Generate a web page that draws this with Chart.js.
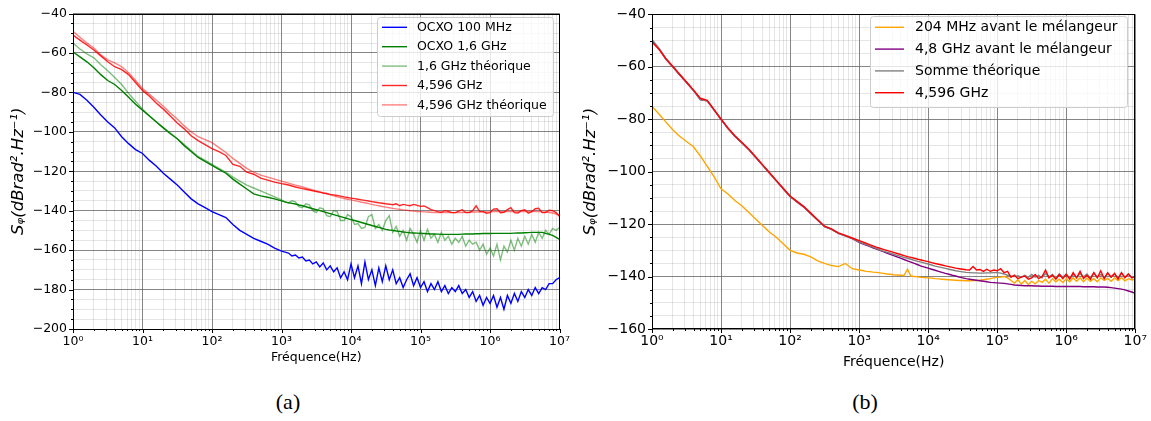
<!DOCTYPE html>
<html><head><meta charset="utf-8">
<script src="https://cdn.jsdelivr.net/npm/chart.js@4.4.1/dist/chart.umd.min.js"></script>
<style>
html,body{margin:0;padding:0;background:#fff;}
#wrap{position:relative;width:1151px;height:421px;overflow:hidden;background:#fff;}
#ca{position:absolute;left:0;top:0;}
#cb{position:absolute;left:580px;top:0;}
.cap{position:absolute;top:389px;font-family:'Liberation Serif','DejaVu Serif',serif;font-size:22px;line-height:26px;transform:translateX(-50%);color:#000;}
</style></head><body>
<div id="wrap">
<canvas id="ca" width="575" height="380"></canvas>
<canvas id="cb" width="571" height="380"></canvas>
<div class="cap" style="left:288px">(a)</div>
<div class="cap" style="left:865px">(b)</div>
</div>
<script>
// ---- data: frequency in Hz (10 pts/decade below 1 kHz, 20 pts/decade above) ----
const FREQ = [1,1.259,1.585,1.995,2.512,3.162,3.981,5.012,6.31,7.943,
10,12.59,15.85,19.95,25.12,31.62,39.81,50.12,63.1,79.43,
100,125.9,158.5,199.5,251.2,316.2,398.1,501.2,631,794.3,
1000,1122,1259,1413,1585,1778,1995,2239,2512,2818,3162,3548,3981,4467,5012,5623,6310,7079,7943,8913,
10000,11220,12590,14130,15850,17780,19950,22390,25120,28180,31620,35480,39810,44670,50120,56230,63100,70790,79430,89130,
100000,112200,125900,141300,158500,177800,199500,223900,251200,281800,316200,354800,398100,446700,501200,562300,631000,707900,794300,891300,
1000000,1122000,1259000,1413000,1585000,1778000,1995000,2239000,2512000,2818000,3162000,3548000,3981000,4467000,5012000,5623000,6310000,7079000,7943000,8913000,
10000000];

// panel (a)
const A_OCXO100 = [-80,-81,-84,-87.5,-91.5,-95,-98,-102.5,-106,-109,
-111,-114.5,-117.5,-121,-124,-127,-130.5,-134,-136.5,-138.5,
-140.5,-142,-143.5,-147,-150,-152,-154,-155.5,-157,-159,
-160.5,-161,-161.5,-163,-162.5,-164,-163.5,-165.5,-165,-167,-166,-168.5,-166.5,-170,-168,-171,-169,-174,-171,-175,
-167,-174,-168,-177,-166,-175,-170,-178,-169,-176,-168,-175,-170,-177,-174,-179,-175,-172,-178,-174,
-179,-176,-181,-177,-180,-176,-181,-178,-182,-179,-181,-178,-182,-180,-184,-181,-186,-183,-188,-184,
-187,-183,-189,-184,-190,-183,-187,-182,-186,-181,-184,-180,-183,-179,-182,-179,-180,-177,-177,-175,
-174];
const A_OCXO16 = [-59.5,-62,-64.5,-67.5,-71,-74,-76,-79,-82.5,-86,
-89,-92,-95,-98,-101,-103.5,-107,-110,-113,-115,
-117,-119,-121,-124,-126.5,-129,-131.5,-132.5,-133.2,-134,
-135,-135.5,-136,-136.3,-136.6,-137.1,-137.5,-138,-138.5,-139,-139.5,-140,-140.5,-141,-141.5,-142,-142.5,-143,-143.5,-144,
-144.5,-145,-145.5,-146,-146.5,-147,-147.5,-148,-148.5,-149,-149.5,-149.8,-150,-150.3,-150.5,-150.8,-151,-151.2,-151.3,-151.4,
-151.5,-151.6,-151.7,-151.8,-151.8,-151.9,-152,-152,-152,-152,-152,-152,-151.9,-151.8,-151.8,-151.8,-151.7,-151.7,-151.6,-151.6,
-151.6,-151.5,-151.5,-151.5,-151.5,-151.5,-151.5,-151.4,-151.3,-151.3,-151.2,-151.1,-151,-151,-151,-151,-151.5,-152,-152.5,-153.5,
-154.5];
const A_TH16 = [-55,-58,-60.5,-62.5,-66,-69,-72.5,-76,-80.5,-84.5,
-88.5,-92,-95,-98,-100.5,-103.5,-106.5,-109.5,-112.5,-114.5,
-116.5,-118.5,-120.5,-123,-125,-127,-128.5,-130,-131.5,-133,
-134.5,-135.5,-136,-135,-135.5,-138,-138.5,-136.5,-137,-140,-141,-138.5,-139,-142.5,-143,-140,-140.5,-145,-145,-142,
-143,-147,-146.5,-149,-148.5,-143,-142,-149,-147,-150,-145,-142.5,-151,-148,-153,-150,-155,-149,-152,-156,
-150,-155,-149.5,-154,-152,-156,-151,-155,-153,-157,-154,-156,-153,-158,-155,-157,-156,-160,-157,-162,
-159,-163,-157,-165,-158,-161,-155,-160,-154,-158,-153,-157,-152,-156,-151,-154,-150,-152,-149,-150,
-148.5];
const A_4596 = [-51,-53.5,-56,-58.5,-61.5,-64.5,-67,-68.5,-71,-75,
-79,-82,-85.5,-88.5,-92,-95.5,-98.5,-102,-104.5,-106.5,
-108.5,-110,-112,-116.5,-117.5,-120.5,-121.5,-123.5,-124.5,-125.5,
-126.3,-126.6,-127,-127.5,-128,-128.4,-128.8,-129.1,-129.5,-129.9,-130.3,-130.6,-131,-131.3,-131.7,-132,-132.3,-132.6,-133,-133.3,
-133.6,-133.9,-134.2,-134.5,-134.8,-135.1,-135.4,-135.7,-136,-136.2,-136.5,-136.7,-137,-136.5,-137.5,-136.8,-137.2,-137.5,-136.8,-137.3,
-137.8,-137.6,-138.5,-139.5,-140,-140.5,-140.8,-140,-140.3,-141,-141,-140.2,-139.5,-141,-141,-140,-137.5,-140.5,-140.5,-141.3,
-141,-139.2,-139,-141,-140.8,-139.5,-138.5,-141,-141.2,-140,-139.5,-141.3,-140.5,-139,-138.8,-141,-141,-139.8,-140,-141,
-143];
const A_TH4596 = [-49,-52,-55,-57.5,-61,-63.5,-65,-67,-70,-74,
-78,-81,-84,-87,-90.5,-93.5,-97,-100,-102.5,-104,
-105.5,-108,-110.5,-113.5,-116,-118.5,-120.5,-122,-123,-124,
-125,-125.5,-126,-126.5,-127,-127.5,-128,-128.5,-129,-129.5,-130,-130.5,-131,-131.5,-132,-132.5,-133,-133.4,-133.8,-134.2,
-134.5,-134.9,-135.3,-135.7,-136,-136.4,-136.8,-137.2,-137.5,-137.9,-138.2,-138.5,-138.8,-139.1,-139.3,-139.6,-139.8,-140,-140.2,-140.4,
-140.5,-140.6,-140.7,-140.8,-141,-141,-141,-141,-141,-141,-141,-140.9,-140.9,-140.8,-140.8,-140.7,-140.7,-140.6,-140.6,-140.6,
-140.6,-140.5,-140.5,-140.5,-140.5,-140.5,-140.5,-140.4,-140.4,-140.4,-140.4,-140.4,-140.4,-140.4,-140.5,-140.6,-140.7,-140.9,-141.2,-141.7,
-142.3];

// panel (b)
const B_204 = [-75,-78,-81,-84,-86.5,-88.5,-90.5,-94,-98,-102,
-106.5,-108.5,-111,-113,-115.5,-118,-120.5,-123,-125,-127.5,
-130,-131,-131.5,-132.5,-134,-135,-135.8,-136.2,-135,-137,
-137.5,-137.7,-138,-138.1,-138.3,-138.4,-138.6,-138.8,-139,-139.1,-139.3,-139.4,-139.5,-139.6,-137.2,-139.8,-140,-140.1,-140.3,-140.4,
-140.5,-140.6,-140.8,-140.9,-141,-141.1,-141.2,-141.3,-141.4,-141.5,-141.5,-141.6,-141.6,-141.5,-141.5,-141.4,-141.2,-141,-140.8,-140.5,
-140.3,-140.2,-140,-140.5,-141.5,-142.5,-141.2,-142.8,-141.5,-143,-141.8,-142.8,-141.5,-142.2,-141,-142.5,-140.8,-142,-141,-142.3,
-140.8,-142,-140.5,-141.8,-140.5,-142,-140.6,-141.8,-140.8,-142,-140.5,-141.5,-140.7,-141.8,-140.5,-141.5,-140.4,-141.6,-140.8,-141.3,
-141];
const B_48 = [-50,-53,-57,-60,-63,-66,-69,-72.5,-73,-76.5,
-80,-83.5,-86.5,-89,-91.5,-94.5,-97.5,-100.5,-103.5,-106.5,
-109.5,-111.5,-113.5,-116,-118.5,-121,-122,-123.5,-124.5,-125.5,
-127,-127.5,-128,-128.5,-129,-129.5,-130,-130.5,-131,-131.5,-132,-132.5,-133,-133.5,-134,-134.5,-135,-135.5,-136,-136.4,
-136.8,-137.2,-137.6,-138,-138.4,-138.8,-139.1,-139.5,-139.8,-140.2,-140.5,-140.8,-141,-141.2,-141.4,-141.6,-141.8,-142,-142.2,-142.3,
-142.4,-142.5,-142.6,-142.8,-143,-143.2,-143.3,-143.4,-143.5,-143.5,-143.5,-143.6,-143.6,-143.7,-143.7,-143.7,-143.7,-143.8,-143.8,-143.8,
-143.8,-143.8,-143.8,-143.8,-143.8,-143.9,-143.9,-143.9,-143.9,-144,-144,-144,-144.1,-144.2,-144.4,-144.6,-144.8,-145.1,-145.5,-145.9,
-146.4];
const B_SUM = [-49.5,-53,-57,-60,-63,-66,-69,-72.5,-73,-76.5,
-80,-83.5,-86.5,-89,-91.5,-94.5,-97.5,-100.5,-103.5,-106.5,
-109.5,-111.5,-113.5,-116,-118.5,-121,-122,-123.5,-124.5,-125.5,
-126.8,-127.3,-127.8,-128.3,-128.8,-129.3,-129.8,-130.3,-130.7,-131.1,-131.5,-131.9,-132.3,-132.7,-133,-133.4,-133.8,-134.2,-134.5,-134.9,
-135.2,-135.6,-136,-136.3,-136.6,-136.9,-137.2,-137.5,-137.8,-138,-138.2,-138.4,-138.5,-138.6,-138.6,-138.7,-138.7,-138.6,-138.6,-138.5,
-138.5,-138.7,-139,-139.5,-139.8,-140,-139.7,-140.2,-139.5,-140.3,-139.2,-140.2,-139.5,-140.5,-138.8,-140.2,-139.2,-140.5,-139,-140.3,
-139,-140.5,-139.2,-140.3,-138.8,-140.2,-139,-140.5,-138.6,-140.3,-139.2,-140.5,-138.8,-140.2,-139,-140.4,-138.7,-140.2,-139,-140.3,
-139.8];
const B_4596 = [-50.5,-53.3,-56.8,-59.8,-62.8,-65.8,-68.8,-72,-72.8,-76.3,
-80,-83.3,-86.3,-88.8,-91.3,-94.3,-97.3,-100.3,-103.3,-106.3,
-109.3,-111.3,-113.3,-115.8,-118.3,-120.8,-121.8,-123.3,-124.3,-125.3,
-126.3,-126.8,-127.3,-127.8,-128.3,-128.8,-129.2,-129.6,-130,-130.4,-130.8,-131.2,-131.6,-132,-132.4,-132.7,-133,-133.4,-133.7,-134,
-134.3,-134.7,-135,-135.3,-135.6,-135.9,-136.2,-136.5,-136.8,-137,-137.2,-137.4,-137.5,-136.2,-137.5,-137.3,-138,-137.2,-138,-137.5,
-137.8,-137,-138.5,-138,-140.3,-139.5,-140.8,-140.2,-139.8,-141,-140.5,-139.2,-140.8,-140,-137.5,-140.5,-139.5,-141,-139.2,-140.8,
-139.2,-141,-138.5,-140.5,-138,-140.8,-139.5,-141,-138.5,-140.5,-137.8,-140.8,-138.5,-140.2,-138.8,-141,-138.5,-140.5,-139,-140.5,
-140];

const A_LABELS = ['OCXO 100 MHz','OCXO 1,6 GHz','1,6 GHz théorique','4,596 GHz','4,596 GHz théorique'];
const B_LABELS = ['204 MHz avant le mélangeur','4,8 GHz avant le mélangeur','Somme théorique','4,596 GHz'];
const X_TICK_LABELS = ['10⁰','10¹','10²','10³','10⁴','10⁵','10⁶','10⁷'];
const A_Y_RANGE = [-200, -40];
const B_Y_RANGE = [-160, -40];
const Y_LABEL_STEP = 20, Y_MINOR_STEP = 5;
const X_TITLE = 'Fréquence(Hz)';
const Y_TITLE = 'Sᵩ(dBrad².Hz⁻¹)';

// ---- helpers ----
const FONT = "'DejaVu Sans', sans-serif";
const MAJ = 'rgba(102,102,102,0.8)', MIN = 'rgba(153,153,153,0.25)';
const isPow10 = v => Math.abs(Math.log10(v) - Math.round(Math.log10(v))) < 1e-9;

const mplAxes = {
  id: 'mplAxes',
  afterDatasetsDraw(chart) {
    const {ctx, chartArea: a, scales: {x, y}} = chart;
    ctx.save();
    ctx.strokeStyle = '#000';
    ctx.lineWidth = 1;
    ctx.beginPath();
    x.ticks.forEach(t => {
      const px = Math.round(x.getPixelForValue(t.value)) + 0.5;
      const len = isPow10(t.value) ? 4 : 2;
      ctx.moveTo(px, Math.round(a.bottom)); ctx.lineTo(px, Math.round(a.bottom) + len);
    });
    y.ticks.forEach(t => {
      const py = Math.round(y.getPixelForValue(t.value)) + 0.5;
      const len = (t.value % Y_LABEL_STEP === 0) ? 4 : 2;
      ctx.moveTo(Math.round(a.left) - len, py); ctx.lineTo(Math.round(a.left), py);
    });
    ctx.stroke();
    ctx.strokeRect(Math.round(a.left) + 0.5, Math.round(a.top) + 0.5,
                   Math.round(a.right - a.left) - 1, Math.round(a.bottom - a.top) - 1);
    ctx.restore();
  }
};

const boxLegend = {
  id: 'boxLegend',
  afterDraw(chart, args, o) {
    const ctx = chart.ctx;
    ctx.save();
    ctx.beginPath();
    ctx.roundRect(o.x + 0.5, o.y + 0.5, o.w, o.h, 3);
    ctx.fillStyle = 'rgba(255,255,255,0.8)';
    ctx.fill();
    ctx.strokeStyle = '#cccccc';
    ctx.lineWidth = 1;
    ctx.stroke();
    ctx.font = o.size + 'px ' + FONT;
    ctx.textBaseline = 'middle';
    ctx.textAlign = 'left';
    chart.data.datasets.forEach((ds, i) => {
      const cy = o.y0 + i * o.dy;
      ctx.beginPath();
      ctx.strokeStyle = ds.borderColor;
      ctx.lineWidth = ds.borderWidth;
      ctx.moveTo(o.lx, cy); ctx.lineTo(o.lx + o.ll, cy);
      ctx.stroke();
      ctx.fillStyle = '#000';
      ctx.fillText(ds.label, o.tx, cy + 0.5);
    });
    ctx.restore();
  }
};

function makeChart(id, series, labels, colors, yRange, L) {
  const n = series.length;
  const datasets = series.map((vals, i) => ({
    label: labels[i],
    data: FREQ.map((f, k) => ({x: f, y: vals[k]})),
    borderColor: colors[i],
    borderWidth: L.lw,
    pointRadius: 0,
    tension: 0,
    fill: false,
    order: n - i   // later series drawn on top, as in the reference
  }));
  return new Chart(document.getElementById(id), {
    type: 'line',
    data: {datasets},
    plugins: [mplAxes, boxLegend],
    options: {
      responsive: false,
      animation: false,
      events: [],
      layout: {padding: {left: 0, top: L.top, right: L.right, bottom: 0}},
      plugins: {
        legend: {display: false},
        tooltip: {enabled: false},
        boxLegend: L.legend
      },
      scales: {
        x: {
          type: 'logarithmic',
          min: 1, max: 1e7,
          afterBuildTicks: s => {
            const t = [];
            for (let e = 0; e < 7; e++) for (let m = 1; m < 10; m++) t.push({value: m * Math.pow(10, e)});
            t.push({value: 1e7});
            s.ticks = t;
          },
          afterFit: s => { s.height = L.xh; },
          ticks: {
            autoSkip: false, maxRotation: 0, minRotation: 0, padding: L.xpad,
            color: '#000', font: {family: FONT, size: L.fs},
            callback: v => isPow10(v) ? X_TICK_LABELS[Math.round(Math.log10(v))] : ''
          },
          grid: {color: c => isPow10(c.tick.value) ? MAJ : MIN, lineWidth: 1, drawTicks: false},
          border: {display: false},
          title: {display: true, text: X_TITLE, color: '#000', font: {family: FONT, size: L.fs}, padding: {top: 0, bottom: L.xtpad}}
        },
        y: {
          type: 'linear',
          min: yRange[0], max: yRange[1],
          afterBuildTicks: s => {
            const t = [];
            for (let v = yRange[0]; v <= yRange[1]; v += Y_MINOR_STEP) t.push({value: v});
            s.ticks = t;
          },
          afterFit: s => { s.width = L.yw; },
          ticks: {
            autoSkip: false, padding: 6, color: '#000', font: {family: FONT, size: L.fs},
            callback: v => (v % Y_LABEL_STEP === 0) ? (v < 0 ? '\u2212' + Math.abs(v) : String(v)) : ''
          },
          grid: {color: c => (c.tick.value % Y_LABEL_STEP === 0) ? MAJ : MIN, lineWidth: 1, drawTicks: false},
          border: {display: false},
          title: {display: true, text: Y_TITLE, color: '#000', font: {family: FONT, size: L.yts, style: 'italic'}, padding: {top: L.ytpad, bottom: 0}}
        }
      }
    }
  });
}

makeChart('ca', [A_OCXO100, A_OCXO16, A_TH16, A_4596, A_TH4596], A_LABELS,
  ['#0000ff', '#008000', 'rgba(0,128,0,0.5)', 'rgba(255,0,0,0.85)', 'rgba(255,0,0,0.5)'],
  A_Y_RANGE,
  {lw: 1.4, top: 13, right: 14, xh: 51, yw: 73, fs: 12.5, yts: 16.5, xpad: 5, xtpad: 15, ytpad: 9,
   legend: {x: 377, y: 17, w: 176, h: 99, y0: 27.3, dy: 19.4, lx: 382, ll: 25, tx: 417, size: 12.5}});

makeChart('cb', [B_204, B_48, B_SUM, B_4596], B_LABELS,
  ['#ffa500', '#800080', '#808080', '#ff0000'],
  B_Y_RANGE,
  {lw: 1.4, top: 10, right: 15, xh: 51, yw: 72, fs: 14, yts: 16.5, xpad: 4, xtpad: 9, ytpad: 1,
   legend: {x: 290, y: 16, w: 257, h: 91, y0: 27.3, dy: 21.8, lx: 295, ll: 29, tx: 335, size: 14}});
</script>
</body></html>
